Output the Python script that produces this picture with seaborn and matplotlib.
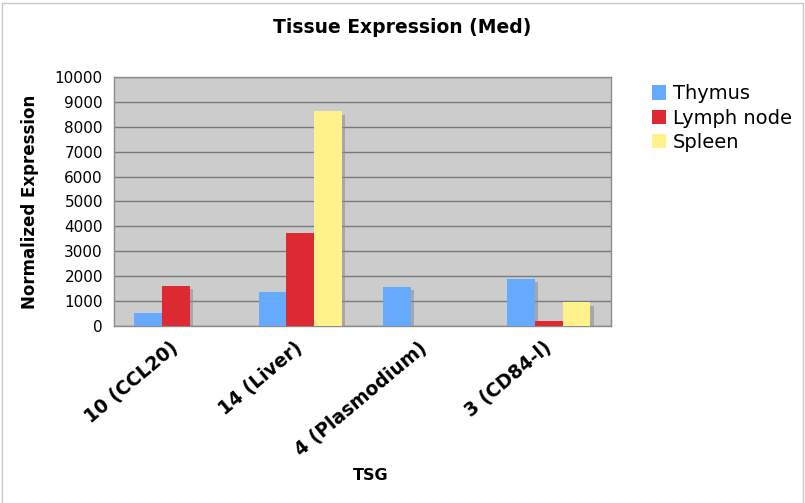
import matplotlib
matplotlib.use("Agg")
import matplotlib.pyplot as plt
import matplotlib.patheffects as pe
from matplotlib.lines import Line2D
from matplotlib.patches import Patch
import numpy as np
import pandas as pd
import seaborn as sns

categories = ["10 (CCL20)", "14 (Liver)", "4 (Plasmodium)", "3 (CD84-l)"]
series = ["Thymus", "Lymph node", "Spleen"]
thymus = [500, 1370, 1580, 1900]
lymph_node = [1620, 3720, 0, 200]
spleen = [0, 8620, 15, 950]
colors = ["#66aaff", "#dd2a32", "#fff28a"]
yticks = [0, 1000, 2000, 3000, 4000, 5000, 6000, 7000, 8000, 9000, 10000]

df = pd.DataFrame({
    "TSG": categories * 3,
    "Tissue": [s for s in series for _ in categories],
    "Value": thymus + lymph_node + spleen,
})

sns.set_style("white")
plt.rcParams["font.family"] = ["DejaVu Sans"]
plt.rcParams["text.color"] = "black"
plt.rcParams["axes.labelcolor"] = "black"
plt.rcParams["xtick.color"] = "black"
plt.rcParams["ytick.color"] = "black"

fig = plt.figure(figsize=(8.05, 5.03), dpi=100)
ax = fig.add_axes([0.1416, 0.352, 0.6174, 0.495])

sns.barplot(data=df, x="TSG", y="Value", hue="Tissue", order=categories,
            hue_order=series, palette=colors, width=0.67, ax=ax,
            saturation=1, errorbar=None, legend=False, linewidth=0, zorder=3)

for p in ax.patches:
    p.set_path_effects([pe.SimplePatchShadow(offset=(2.5, -2.5), shadow_rgbFace="#8a8a8a", alpha=0.55),
                        pe.Normal()])

ax.set_facecolor("#cccccc")
ax.set_ylim(0, 10000)
ax.set_xlim(-0.5, len(categories) - 0.5)
ax.set_yticks(yticks)
ax.set_yticklabels([str(v) for v in yticks], fontsize=11)
ax.yaxis.grid(True, color="#7a7a7a", linewidth=1, zorder=1)
ax.set_axisbelow(True)
for s in ax.spines.values():
    s.set_color("#8c8c8c")
    s.set_linewidth(1)
ax.tick_params(axis="y", direction="out", length=4, color="#8c8c8c", labelcolor="black", pad=4)

ax.set_xticks(range(len(categories)))
ax.set_xticklabels(categories, rotation=40, ha="right", va="center",
                   rotation_mode="anchor", fontsize=13.5, fontweight="bold")
ax.tick_params(axis="x", which="major", length=0, pad=14, labelcolor="black")
ax.set_xticks(np.arange(-0.5, len(categories), 1.0), minor=True)
ax.tick_params(axis="x", which="minor", direction="out", length=4, color="#8c8c8c")

ax.set_xlabel("TSG", fontsize=11.5, fontweight="bold")
ax.xaxis.set_label_coords(0.516, -0.57)
ax.set_ylabel("Normalized Expression", fontsize=12, fontweight="bold", labelpad=11)

fig.text(0.5, 0.945, "Tissue Expression (Med)", ha="center", va="center",
         fontsize=13.5, fontweight="bold")

handles = [Patch(facecolor=c, edgecolor="none") for c in colors]
fig.legend(handles, series, loc="upper left", bbox_to_anchor=(0.8, 0.848),
           frameon=False, fontsize=14, handlelength=0.75, handleheight=0.75,
           handletextpad=0.35, labelspacing=0.28, borderaxespad=0)

fig.add_artist(Line2D([0.003, 0.003, 0.997, 0.997], [0.0, 0.994, 0.994, 0.0],
                      transform=fig.transFigure, color="#c8c8c8", linewidth=1))

fig.savefig("out.png", dpi=100)
